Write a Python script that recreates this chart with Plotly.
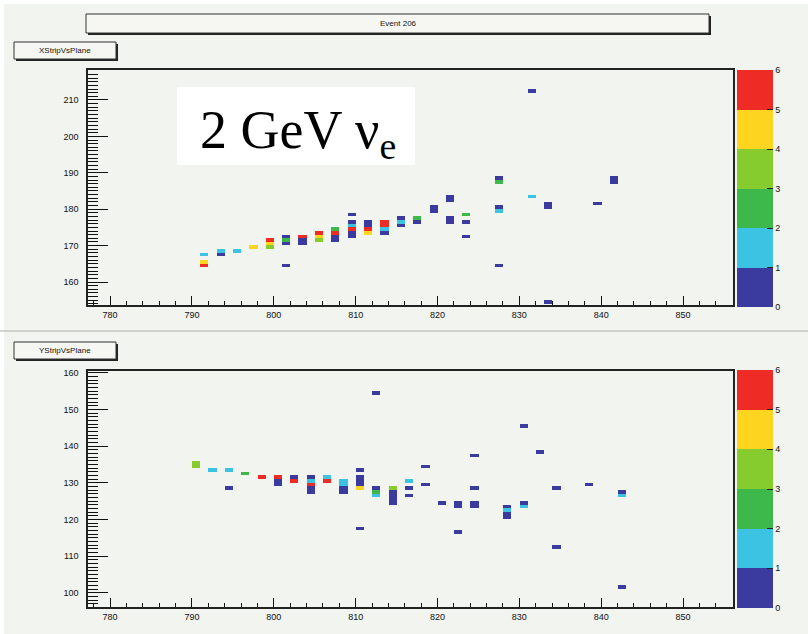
import numpy as np
import plotly.graph_objects as go

# ---- hit data: plane number, strip number, deposited charge ----
# X-view (XStripVsPlane)
x_plane = [791, 791, 791,
           793, 793,
           795,
           797,
           799, 799, 799,
           801, 801, 801, 801,
           803, 803, 803,
           805, 805, 805,
           807, 807, 807, 807,
           809, 809, 809, 809, 809, 809,
           811, 811, 811, 811,
           813, 813, 813, 813,
           815, 815, 815,
           817, 817,
           819, 819,
           821, 821, 821, 821,
           823, 823, 823,
           827, 827, 827, 827, 827,
           831, 831,
           833, 833, 833,
           839,
           841, 841]
x_strip = [167, 165, 164,
           168, 167,
           168,
           169,
           171, 170, 169,
           172, 171, 170, 164,
           172, 171, 170,
           173, 172, 171,
           174, 173, 172, 171,
           178, 176, 175, 174, 173, 172,
           176, 175, 174, 173,
           176, 175, 174, 173,
           177, 176, 175,
           177, 176,
           180, 179,
           183, 182, 177, 176,
           178, 176, 172,
           188, 187, 180, 179, 164,
           212, 183,
           181, 180, 154,
           181,
           188, 187]
x_charge = [1.5, 4.5, 5.5,
            1.3, 0.6,
            1.4,
            4.4,
            5.5, 4.6, 3.4,
            0.6, 2.6, 0.6, 0.6,
            5.5, 0.6, 0.6,
            5.5, 4.6, 3.4,
            2.6, 5.5, 0.6, 0.6,
            0.6, 0.6, 1.5, 5.5, 0.6, 0.6,
            0.6, 0.6, 5.5, 4.5,
            5.5, 5.5, 1.5, 0.6,
            0.6, 1.5, 0.6,
            2.6, 0.6,
            0.6, 0.6,
            0.6, 0.6, 0.6, 0.6,
            2.6, 0.6, 0.6,
            0.6, 2.6, 0.6, 1.4, 0.6,
            0.6, 1.5,
            0.6, 0.6, 0.6,
            0.6,
            0.6, 0.6]

# Y-view (YStripVsPlane)
y_plane = [790, 790,
           792,
           794, 794,
           796,
           798,
           800, 800, 800,
           802, 802,
           804, 804, 804, 804, 804,
           806, 806,
           808, 808, 808, 808,
           810, 810, 810, 810, 810, 810,
           812, 812, 812, 812,
           814, 814, 814, 814, 814,
           816, 816, 816,
           818, 818,
           820,
           822, 822, 822,
           824, 824, 824, 824,
           828, 828, 828, 828,
           830, 830, 830,
           832,
           834, 834,
           838,
           842, 842, 842]
y_strip = [135, 134,
           133,
           133, 128,
           132,
           131,
           131, 130, 129,
           131, 130,
           131, 130, 129, 128, 127,
           131, 130,
           130, 129, 128, 127,
           133, 131, 130, 129, 128, 117,
           154, 128, 127, 126,
           128, 127, 126, 125, 124,
           130, 128, 126,
           134, 129,
           124,
           124, 123, 116,
           137, 128, 124, 123,
           123, 122, 121, 120,
           145, 124, 123,
           138,
           128, 112,
           129,
           127, 126, 101]
y_charge = [3.4, 3.4,
            1.5,
            1.5, 0.6,
            2.5,
            5.5,
            5.5, 0.6, 0.6,
            0.6, 5.5,
            0.6, 1.5, 5.5, 0.6, 0.6,
            1.5, 5.5,
            1.5, 1.5, 0.6, 0.6,
            0.6, 0.6, 0.6, 0.6, 4.5, 0.6,
            0.6, 0.6, 2.4, 1.5,
            3.0, 0.6, 0.6, 0.6, 0.6,
            1.5, 0.6, 0.6,
            0.6, 0.6,
            0.6,
            0.6, 0.6, 0.6,
            0.6, 0.6, 0.6, 0.6,
            0.6, 1.4, 0.6, 0.6,
            0.6, 0.6, 1.5,
            0.6,
            0.6, 0.6,
            0.6,
            0.6, 1.4, 0.6]

colorbar_ticks = [0, 1, 2, 3, 4, 5, 6]
x_ticks = [780, 790, 800, 810, 820, 830, 840, 850]

# ROOT-like six band palette
band_colors = ["#3b3b9f", "#3cc3e3", "#3db84a", "#86cc2e", "#fdd420", "#ef2b25"]
colorscale = []
for i, c in enumerate(band_colors):
    colorscale.append([i / 6, c])
    colorscale.append([(i + 1) / 6, c])


def histogram(planes, strips, charges, strip_lo, strip_hi):
    plane_bins = np.arange(777, 856)
    strip_bins = np.arange(strip_lo, strip_hi)
    z = np.full((len(strip_bins), len(plane_bins)), np.nan)
    for p, s, q in zip(planes, strips, charges):
        z[s - strip_lo, p - 777] = q
    return plane_bins + 0.5, strip_bins + 0.5, z


W, H = 808, 634
L, R, T, B = 88, 733, 70, 607


def fx(px):
    return (px - L) / (R - L)


def fy(py):
    return (B - py) / (B - T)


bg = "#f2f4ef"
tick_font = dict(family="Liberation Sans", size=9, color="#111")

fig = go.Figure()

xc, yc, z = histogram(x_plane, x_strip, x_charge, 153, 219)
fig.add_trace(go.Heatmap(
    x=xc, y=yc, z=z, xaxis="x", yaxis="y",
    colorscale=colorscale, zmin=0, zmax=6, hoverinfo="skip",
    colorbar=dict(x=fx(737), xanchor="left", xpad=0, y=fy(70), yanchor="top", ypad=0,
                  len=237, lenmode="pixels", thickness=36, thicknessmode="pixels",
                  tickvals=colorbar_ticks, ticks="inside", ticklen=6, tickcolor="#222",
                  tickfont=tick_font, outlinewidth=0)))

xc2, yc2, z2 = histogram(y_plane, y_strip, y_charge, 96, 161)
fig.add_trace(go.Heatmap(
    x=xc2, y=yc2, z=z2, xaxis="x2", yaxis="y2",
    colorscale=colorscale, zmin=0, zmax=6, hoverinfo="skip",
    colorbar=dict(x=fx(737), xanchor="left", xpad=0, y=fy(370), yanchor="top", ypad=0,
                  len=238, lenmode="pixels", thickness=36, thicknessmode="pixels",
                  tickvals=colorbar_ticks, ticks="inside", ticklen=6, tickcolor="#222",
                  tickfont=tick_font, outlinewidth=0)))

xaxis_style = dict(range=[777.3, 856.1], tickvals=x_ticks, ticks="inside", ticklen=9,
                   tickcolor="#111", tickwidth=1.2, tickfont=tick_font,
                   minor=dict(dtick=2, tick0=780, ticks="inside", ticklen=4, tickcolor="#111"),
                   showline=True, linecolor="#222", linewidth=1.5, mirror=True,
                   showgrid=False, zeroline=False, ticklabelstandoff=0)
yaxis_style = dict(ticks="inside", ticklen=20, tickcolor="#111", tickwidth=1.2, dtick=10,
                   tickfont=tick_font,
                   minor=dict(dtick=1, ticks="inside", ticklen=10, tickcolor="#111"),
                   showline=True, linecolor="#222", linewidth=1.5, mirror=True,
                   showgrid=False, zeroline=False, ticklabelstandoff=6)

shapes = []


def box(x0, y0, x1, y1, shadow=2):
    shapes.append(dict(type="rect", xref="paper", yref="paper",
                       x0=fx(x0 + shadow), x1=fx(x1 + shadow), y0=fy(y0 + shadow), y1=fy(y1 + shadow),
                       fillcolor="#222", line=dict(width=0), layer="above"))
    shapes.append(dict(type="rect", xref="paper", yref="paper",
                       x0=fx(x0), x1=fx(x1), y0=fy(y0), y1=fy(y1),
                       fillcolor="#f6f7f3", line=dict(color="#333", width=1), layer="above"))


# white canvas edges and pad separator
shapes.append(dict(type="rect", xref="paper", yref="paper", x0=fx(0), x1=fx(W), y0=fy(0), y1=fy(4),
                   fillcolor="white", line=dict(width=0), layer="below"))
shapes.append(dict(type="rect", xref="paper", yref="paper", x0=fx(0), x1=fx(4), y0=fy(0), y1=fy(H),
                   fillcolor="white", line=dict(width=0), layer="below"))
shapes.append(dict(type="line", xref="paper", yref="paper", x0=fx(0), x1=fx(W), y0=fy(331), y1=fy(331),
                   line=dict(color="#c4c6c0", width=1.5), layer="below"))

box(86, 14, 709, 33)
box(14, 42, 116, 59)
box(14, 342, 116, 359)

# white label panel in the X view
shapes.append(dict(type="rect", xref="paper", yref="paper", x0=fx(177), x1=fx(415), y0=fy(87), y1=fy(165),
                   fillcolor="white", line=dict(width=0), layer="above"))

label_font = dict(family="Liberation Sans", size=8, color="#111")
annotations = [
    dict(text="Event 206", x=fx(398), y=fy(23.5), xref="paper", yref="paper",
         showarrow=False, font=label_font, xanchor="center", yanchor="middle"),
    dict(text="XStripVsPlane", x=fx(65), y=fy(50.5), xref="paper", yref="paper",
         showarrow=False, font=label_font, xanchor="center", yanchor="middle"),
    dict(text="YStripVsPlane", x=fx(65), y=fy(350.5), xref="paper", yref="paper",
         showarrow=False, font=label_font, xanchor="center", yanchor="middle"),
    dict(text="2 GeV ν<sub>e</sub>", x=fx(298), y=fy(133), xref="paper", yref="paper",
         showarrow=False, font=dict(family="Liberation Serif", size=54, color="black"),
         xanchor="center", yanchor="middle"),
]

fig.update_layout(
    width=W, height=H,
    margin=dict(l=L, r=W - R, t=T, b=H - B, pad=0),
    paper_bgcolor=bg, plot_bgcolor=bg,
    showlegend=False,
    xaxis=dict(domain=[0, 1], anchor="y", **xaxis_style),
    yaxis=dict(domain=[fy(305), 1], anchor="x", range=[153.68, 218.24], **yaxis_style),
    xaxis2=dict(domain=[0, 1], anchor="y2", **xaxis_style),
    yaxis2=dict(domain=[0, fy(371)], anchor="x2", range=[96.18, 160.54], **yaxis_style),
    shapes=shapes,
    annotations=annotations,
)

fig.write_html("out.html")
